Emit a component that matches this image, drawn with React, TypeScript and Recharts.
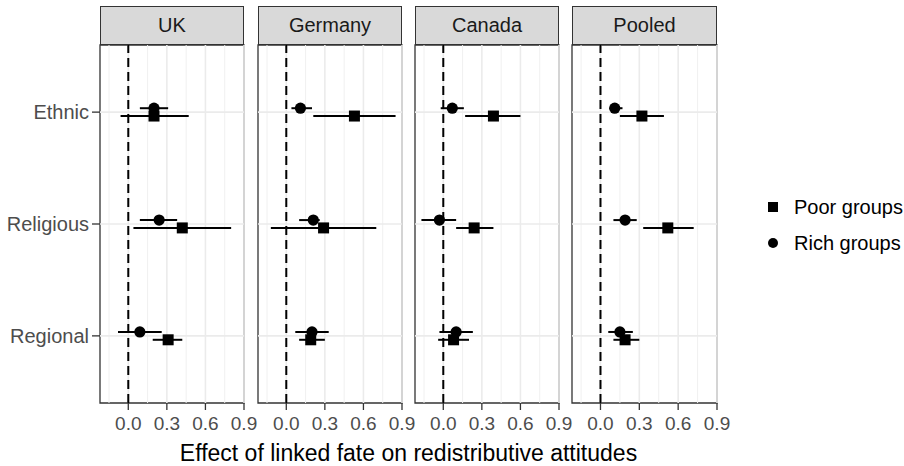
import React from "react";
import { ScatterChart, Scatter, XAxis, YAxis, ErrorBar, ReferenceLine, ReferenceArea } from "recharts";

const panels = ["UK", "Germany", "Canada", "Pooled"];
const categories = ["Ethnic", "Religious", "Regional"];
const xTicks = [0, 0.3, 0.6, 0.9];
const minorTicks = [-0.15, 0.15, 0.45, 0.75];

// [estimate, lower, upper] for Ethnic, Religious, Regional
const ukRich = [[0.2, 0.09, 0.31], [0.24, 0.09, 0.38], [0.09, -0.08, 0.26]];
const ukPoor = [[0.2, -0.06, 0.47], [0.42, 0.04, 0.8], [0.31, 0.19, 0.42]];
const germanyRich = [[0.11, 0.04, 0.2], [0.21, 0.1, 0.26], [0.2, 0.07, 0.33]];
const germanyPoor = [[0.53, 0.21, 0.85], [0.29, -0.12, 0.7], [0.19, 0.1, 0.3]];
const canadaRich = [[0.07, -0.02, 0.16], [-0.03, -0.17, 0.1], [0.1, -0.03, 0.23]];
const canadaPoor = [[0.39, 0.17, 0.6], [0.24, 0.1, 0.39], [0.08, -0.04, 0.2]];
const pooledRich = [[0.11, 0.07, 0.17], [0.19, 0.1, 0.28], [0.15, 0.06, 0.25]];
const pooledPoor = [[0.32, 0.15, 0.49], [0.52, 0.33, 0.72], [0.19, 0.1, 0.3]];

const rich = [ukRich, germanyRich, canadaRich, pooledRich];
const poor = [ukPoor, germanyPoor, canadaPoor, pooledPoor];

const FONT = '"Liberation Sans", Arial, Helvetica, sans-serif';
const X_DOMAIN = [-0.22, 0.9];
const Y_DOMAIN = [0.4, 3.6];
const DODGE = 0.035;

// chart boxes: left, width, margin left/right (plot areas sit at 100-244, 258-402, 415-559, 572-717)
const boxes = [
  { left: 0, width: 258, ml: 0, mr: 14 },
  { left: 244, width: 172, ml: 14, mr: 14 },
  { left: 401, width: 172, ml: 14, mr: 14 },
  { left: 558, width: 173, ml: 14, mr: 14 },
];

const toRows = (rows: number[][], shift: number) =>
  rows.map(([est, lo, hi], i) => ({ y: i + 1 + shift, x: est, err: [est - lo, hi - est] }));

const squareShape = (p: any) => <rect x={p.cx - 5.5} y={p.cy - 5.5} width={11} height={11} fill="#000" />;
const circleShape = (p: any) => <circle cx={p.cx} cy={p.cy} r={5.6} fill="#000" />;

function Panel({ idx }: { idx: number }) {
  const b = boxes[idx];
  const first = idx === 0;
  const plotLeft = b.left + b.ml + (first ? 100 : 0);
  const plotRight = b.left + b.width - b.mr;
  return (
    <>
      <div
        style={{
          position: "absolute",
          left: plotLeft,
          top: 6,
          width: plotRight - plotLeft,
          height: 39,
          boxSizing: "border-box",
          background: "#d9d9d9",
          border: "1.3px solid #333",
          display: "flex",
          alignItems: "center",
          justifyContent: "center",
          fontFamily: FONT,
          fontSize: 20,
          color: "#1a1a1a",
        }}
      >
        {panels[idx]}
      </div>
      <div style={{ position: "absolute", left: b.left, top: 0 }}>
        <ScatterChart width={b.width} height={466} margin={{ top: 45, right: b.mr, bottom: 0, left: b.ml }}>
          <XAxis
            type="number"
            dataKey="x"
            domain={X_DOMAIN}
            allowDataOverflow
            ticks={xTicks}
            tickFormatter={(v: number) => v.toFixed(1)}
            height={63}
            axisLine={false}
            tickSize={7}
            tickMargin={7}
            tickLine={{ stroke: "#333", strokeWidth: 1.3 }}
            tick={{ fill: "#4d4d4d", fontSize: 19, fontFamily: FONT }}
            interval={0}
          />
          <YAxis
            type="number"
            dataKey="y"
            domain={Y_DOMAIN}
            reversed
            allowDataOverflow
            ticks={[1, 2, 3]}
            tickFormatter={(v: number) => categories[v - 1]}
            width={100}
            hide={!first}
            axisLine={false}
            tickSize={8}
            tickMargin={3}
            tickLine={{ stroke: "#333", strokeWidth: 1.3 }}
            tick={{ fill: "#4d4d4d", fontSize: 20, fontFamily: FONT }}
            interval={0}
          />
          {minorTicks.map((v) => (
            <ReferenceLine key={"mn" + v} x={v} stroke="#f0f0f0" strokeWidth={1} />
          ))}
          {xTicks.map((v) => (
            <ReferenceLine key={"mj" + v} x={v} stroke="#ebebeb" strokeWidth={1.6} />
          ))}
          {[1, 2, 3].map((v) => (
            <ReferenceLine key={"h" + v} y={v} stroke="#ebebeb" strokeWidth={1.6} />
          ))}
          <ReferenceLine x={0} stroke="#000" strokeWidth={2} strokeDasharray="9 5" />
          <ReferenceArea x1={X_DOMAIN[0]} x2={X_DOMAIN[1]} y1={Y_DOMAIN[0]} y2={Y_DOMAIN[1]} fill="none" stroke="#333" strokeWidth={1.3} fillOpacity={0} />
          <Scatter data={toRows(poor[idx], DODGE)} shape={squareShape} isAnimationActive={false}>
            <ErrorBar dataKey="err" direction="x" width={0} stroke="#000" strokeWidth={2} />
          </Scatter>
          <Scatter data={toRows(rich[idx], -DODGE)} shape={circleShape} isAnimationActive={false}>
            <ErrorBar dataKey="err" direction="x" width={0} stroke="#000" strokeWidth={2} />
          </Scatter>
        </ScatterChart>
      </div>
    </>
  );
}

export default function App() {
  return (
    <div style={{ position: "absolute", left: 0, top: 0, width: 904, height: 466, background: "#fff", fontFamily: FONT }}>
      {panels.map((_, i) => (
        <Panel key={i} idx={i} />
      ))}
      <div
        style={{
          position: "absolute",
          left: 100,
          width: 617,
          top: 442,
          lineHeight: "22px",
          fontSize: 23,
          textAlign: "center",
          color: "#000",
          whiteSpace: "nowrap",
        }}
      >
        Effect of linked fate on redistributive attitudes
      </div>
      <div style={{ position: "absolute", left: 768, top: 202, width: 10, height: 10, background: "#000" }} />
      <div style={{ position: "absolute", left: 794, top: 196, fontSize: 20, lineHeight: "22px", color: "#000" }}>Poor groups</div>
      <div style={{ position: "absolute", left: 768, top: 238, width: 10, height: 10, borderRadius: 5, background: "#000" }} />
      <div style={{ position: "absolute", left: 794, top: 232, fontSize: 20, lineHeight: "22px", color: "#000" }}>Rich groups</div>
    </div>
  );
}
